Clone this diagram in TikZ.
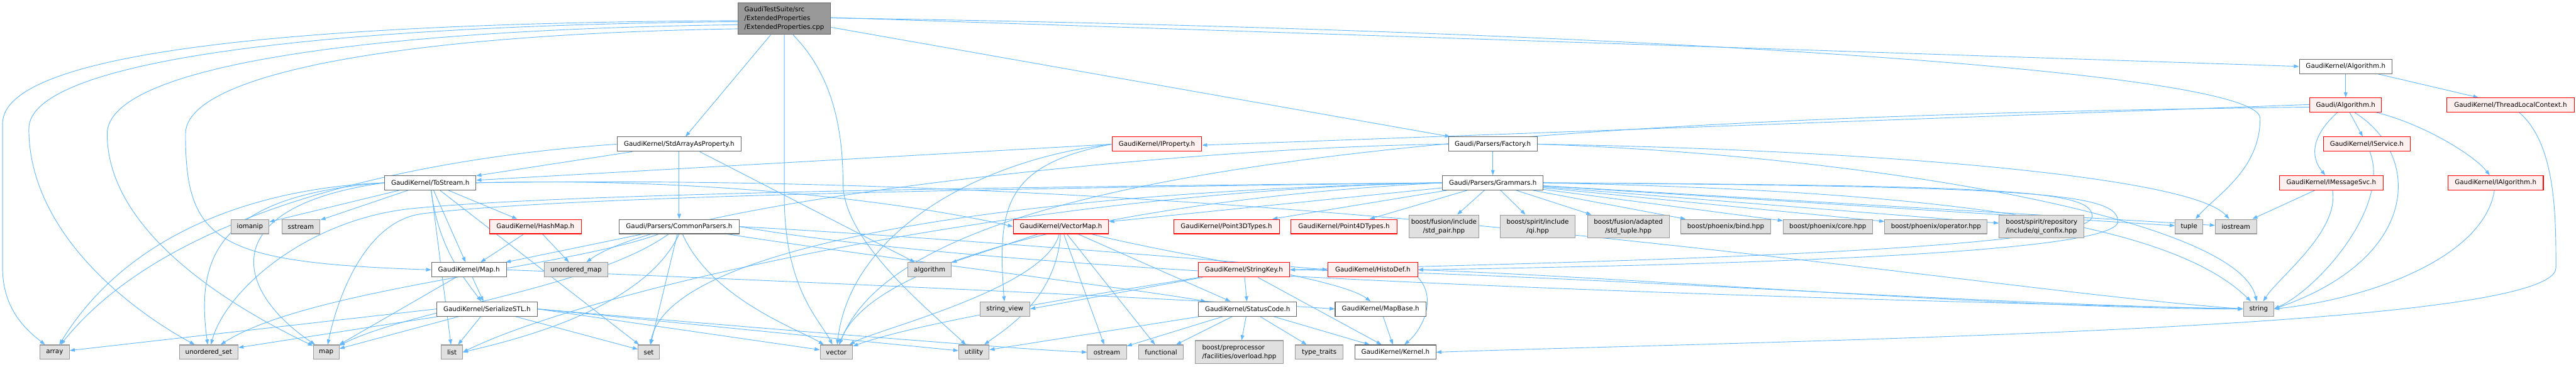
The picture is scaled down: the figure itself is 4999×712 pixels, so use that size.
\documentclass[tikz,border=0pt]{standalone}
\usepackage{fontspec}
\setmainfont{DejaVu Sans}
\usetikzlibrary{arrows.meta}
\definecolor{edgeblue}{HTML}{63B8FF}
\definecolor{maingray}{HTML}{999999}
\definecolor{maindraw}{HTML}{666666}
\definecolor{sysgray}{HTML}{E0E0E0}
\definecolor{sysborder}{HTML}{999999}
\definecolor{redfill}{HTML}{FFF0F0}
\definecolor{whiteborder}{HTML}{666666}
\newcommand{\nodefnt}{\fontsize{12.6}{17}\selectfont}
\pgfdeclarelayer{edgelayer}
\pgfsetlayers{edgelayer,main}
\tikzset{
  box/.style={draw, line width=1.3pt, inner sep=0pt, font=\nodefnt, align=center, text=black},
  wnode/.style={box, fill=white, draw=whiteborder},
  gnode/.style={box, fill=sysgray, draw=sysborder},
  rnode/.style={box, fill=redfill, draw=red},
  mnode/.style={box, fill=maingray, draw=maindraw, align=left},
  wh/.style 2 args={minimum width=#1pt, minimum height=#2pt},
  e/.style={draw=edgeblue, line width=1.1pt, -{Triangle[length=10pt,width=7pt]}},
}
\begin{document}
\begin{tikzpicture}[x=1pt,y=-1pt]
\begin{pgfonlayer}{edgelayer}
\fill[white] (0,0) rectangle (4999,712);
\end{pgfonlayer}
\useasboundingbox (0,0) rectangle (4999,712);
% nodes
\node[mnode, wh={180}{62}] (main) at (1522,36) {GaudiTestSuite/src\\/ExtendedProperties\\/ExtendedProperties.cpp};
\node[wnode, wh={241}{28}] (stdarr) at (1318,280) {GaudiKernel/StdArrayAsProperty.h};
\node[rnode, wh={174}{28}] (iprop) at (2245,280) {GaudiKernel/IProperty.h};
\node[wnode, wh={172}{28}] (factory) at (2897,280) {Gaudi/Parsers/Factory.h};
\node[wnode, wh={195}{28}] (grammars) at (2897,355) {Gaudi/Parsers/Grammars.h};
\node[wnode, wh={180}{28}] (gkalg) at (4552,129) {GaudiKernel/Algorithm.h};
\node[rnode, wh={139}{28}] (galg) at (4552,204) {Gaudi/Algorithm.h};
\node[rnode, wh={247}{28}] (tlc) at (4872,204) {GaudiKernel/ThreadLocalContext.h};
\node[rnode, wh={169}{28}] (isvc) at (4593,280) {GaudiKernel/IService.h};
\node[rnode, wh={201}{28}] (imsg) at (4524,355) {GaudiKernel/IMessageSvc.h};
\node[rnode, wh={185}{28}] (ialg) at (4843,355) {GaudiKernel/IAlgorithm.h};
\node[wnode, wh={177}{28}] (tostream) at (835,355) {GaudiKernel/ToStream.h};
\node[gnode, wh={74}{28}] (iomanip) at (485,440) {iomanip};
\node[gnode, wh={74}{28}] (sstream) at (584,440) {sstream};
\node[rnode, wh={178}{28}] (hashmap) at (1039,440) {GaudiKernel/HashMap.h};
\node[wnode, wh={233}{28}] (common) at (1318,440) {Gaudi/Parsers/CommonParsers.h};
\node[rnode, wh={185}{28}] (vmap) at (2059,440) {GaudiKernel/VectorMap.h};
\node[rnode, wh={205}{28}] (p3d) at (2380,440) {GaudiKernel/Point3DTypes.h};
\node[rnode, wh={206}{28}] (p4d) at (2608,440) {GaudiKernel/Point4DTypes.h};
\node[gnode, wh={135}{45}] (stdpair) at (2802,440) {boost/fusion/include\\/std\_pair.hpp};
\node[gnode, wh={146}{45}] (qi) at (2984,440) {boost/spirit/include\\/qi.hpp};
\node[gnode, wh={159}{45}] (stdtuple) at (3160,440) {boost/fusion/adapted\\/std\_tuple.hpp};
\node[gnode, wh={174}{28}] (bind) at (3349,440) {boost/phoenix/bind.hpp};
\node[gnode, wh={173}{28}] (core) at (3547,440) {boost/phoenix/core.hpp};
\node[gnode, wh={199}{28}] (oper) at (3757,440) {boost/phoenix/operator.hpp};
\node[gnode, wh={165}{45}, align=left] (confix) at (3962,440) {boost/spirit/repository\\/include/qi\_confix.hpp};
\node[gnode, wh={54}{28}] (tuple) at (4248,440) {tuple};
\node[gnode, wh={80}{28}] (iostream) at (4339,440) {iostream};
\node[wnode, wh={145}{28}] (maph) at (910,524) {GaudiKernel/Map.h};
\node[gnode, wh={123}{28}] (umap) at (1118,524) {unordered\_map};
\node[gnode, wh={84}{28}] (algorithm) at (1804,524) {algorithm};
\node[rnode, wh={177}{28}] (strkey) at (2414,524) {GaudiKernel/StringKey.h};
\node[rnode, wh={174}{28}] (histo) at (2664,524) {GaudiKernel/HistoDef.h};
\node[wnode, wh={195}{28}] (serial) at (945,600) {GaudiKernel/SerializeSTL.h};
\node[gnode, wh={97}{28}] (strview) at (1950,600) {string\_view};
\node[wnode, wh={191}{28}] (status) at (2421,600) {GaudiKernel/StatusCode.h};
\node[wnode, wh={176}{28}] (mapbase) at (2679,600) {GaudiKernel/MapBase.h};
\node[gnode, wh={59}{28}] (string) at (4383,600) {string};
\node[gnode, wh={57}{28}] (array) at (106,684) {array};
\node[gnode, wh={114}{28}] (uset) at (405,684) {unordered\_set};
\node[gnode, wh={50}{28}] (map) at (633,684) {map};
\node[gnode, wh={41}{28}] (list) at (877,684) {list};
\node[gnode, wh={41}{28}] (set) at (1259,684) {set};
\node[gnode, wh={63}{28}] (vector) at (1623,684) {vector};
\node[gnode, wh={59}{28}] (utility) at (1890,684) {utility};
\node[gnode, wh={76}{28}] (ostream) at (2148,684) {ostream};
\node[gnode, wh={87}{28}] (functional) at (2253,684) {functional};
\node[gnode, wh={170}{45}, align=left] (overload) at (2405,684) {boost/preprocessor\\/facilities/overload.hpp};
\node[gnode, wh={93}{28}] (typetraits) at (2560,684) {type\_traits};
\node[wnode, wh={157}{28}] (kernel) at (2708,684) {GaudiKernel/Kernel.h};
% edges
\begin{pgfonlayer}{edgelayer}
% main
\draw[e] ([yshift=-4pt]main.west) .. controls (500,45) and (5,110) .. (5,240) -- (5,520) .. controls (5,600) and (50,640) .. (array);
\draw[e] ([yshift=-6pt]main.west) .. controls (600,50) and (56,120) .. (56,250) .. controls (56,450) and (250,600) .. (uset);
\draw[e] ([yshift=-12pt]main.west) .. controls (700,58) and (208,130) .. (208,260) .. controls (208,470) and (500,620) .. (map);
\draw[e] ([yshift=-20pt]main.west) .. controls (800,66) and (360,140) .. (360,260) .. controls (360,470) and (420,510) .. (maph.west);
\draw[e] (main) -- (stdarr);
\draw[e] (main.south) -- (1522,380) .. controls (1522,560) and (1590,620) .. (vector);
\draw[e] (main.-62) .. controls (1620,150) and (1636,260) .. (1636,360) .. controls (1640,470) and (1800,600) .. (utility);
\draw[e] ([yshift=-17pt]main.east) -- (factory);
\draw[e] ([yshift=2pt]main.east) -- (gkalg.west);
\draw[e] ([yshift=1pt]main.east) .. controls (3000,55) and (4386,130) .. (4386,230) .. controls (4386,330) and (4300,380) .. (tuple);
% StdArrayAsProperty
\draw[e] (stdarr) -- (common);
\draw[e] ([xshift=30pt]stdarr.south west) -- (tostream);
\draw[e] (stdarr.west) .. controls (900,300) and (350,380) .. (array);
\draw[e] ([xshift=40pt]stdarr.south) -- (algorithm);
% CommonParsers
\draw[e] (common) -- (maph);
\draw[e] (common) .. controls (1100,520) and (600,560) .. (uset);
\draw[e] (common) .. controls (1150,560) and (800,600) .. (map);
\draw[e] (common.south) .. controls (1250,600) and (1000,660) .. (list.east);
\draw[e] (common) -- (set);
\draw[e] (common) .. controls (1380,580) and (1550,640) .. (vector);
\draw[e] (common) .. controls (1700,500) and (2200,560) .. (status);
\draw[e] (common.east) .. controls (1800,460) and (2300,500) .. (histo.west);
\draw[e] (common.east) .. controls (2000,540) and (3500,580) .. (string.west);
% ToStream
\draw[e] (tostream) -- (iomanip);
\draw[e] (tostream) -- (sstream);
\draw[e] (tostream) -- (hashmap);
\draw[e] (tostream) -- (maph);
\draw[e] (tostream) .. controls (850,480) and (900,540) .. (serial);
\draw[e] (tostream) -- (list);
\draw[e] (tostream) -- (set);
\draw[e] (tostream.west) .. controls (500,365) and (250,450) .. (array);
\draw[e] (tostream.west) .. controls (420,380) and (380,500) .. (uset);
\draw[e] (tostream.west) .. controls (420,400) and (450,560) .. (map);
\draw[e] (tostream.east) .. controls (1300,345) and (1700,380) .. (vmap.west);
\draw[e] (tostream.east) .. controls (2500,330) and (3800,560) .. (string.west);
% HashMap, Map, SerializeSTL
\draw[e] (hashmap) -- (maph);
\draw[e] (hashmap) -- (umap);
\draw[e] (maph.east) .. controls (1400,540) and (2300,580) .. (mapbase.west);
\draw[e] (maph) -- (serial);
\draw[e] (maph) -- (map);
\draw[e] (serial.west) -- (array);
\draw[e] (serial) -- (uset);
\draw[e] (serial) -- (map);
\draw[e] (serial) -- (list);
\draw[e] (serial) -- (set);
\draw[e] (serial.east) -- (vector);
\draw[e] (serial.east) -- (utility);
\draw[e] (serial.east) .. controls (1500,640) and (2000,680) .. (ostream.west);
% VectorMap
\draw[e] (vmap) -- (algorithm);
\draw[e] (vmap) .. controls (2030,560) and (1700,640) .. (vector);
\draw[e] (vmap) .. controls (2050,580) and (1950,640) .. (utility);
\draw[e] (vmap) -- (ostream);
\draw[e] (vmap) -- (functional);
\draw[e] (vmap) -- (status);
\draw[e] (vmap) .. controls (2300,500) and (2600,540) .. (mapbase);
% Grammars
\draw[e] (grammars) -- (vmap);
\draw[e] (grammars) -- (p3d);
\draw[e] (grammars) -- (p4d);
\draw[e] (grammars) -- (stdpair);
\draw[e] (grammars) -- (qi);
\draw[e] (grammars) -- (stdtuple);
\draw[e] (grammars) -- (bind);
\draw[e] (grammars) -- (core);
\draw[e] (grammars) -- (oper);
\draw[e] (grammars) -- (confix);
\draw[e] (grammars) -- (tuple);
\draw[e] (grammars) -- (iostream);
\draw[e] (grammars.east) .. controls (3700,370) and (4200,420) .. (string);
\draw[e] (grammars.east) .. controls (3900,360) and (4060,370) .. (4060,420) .. controls (4060,480) and (3300,505) .. (strkey.east);
\draw[e] (grammars.east) .. controls (3950,362) and (4110,375) .. (4110,430) .. controls (4110,495) and (3300,515) .. (histo.east);
\draw[e] (grammars.west) .. controls (2000,362) and (1100,375) .. (800,405) .. controls (600,425) and (440,560) .. (uset);
\draw[e] (grammars.west) .. controls (2000,365) and (1100,380) .. (820,415) .. controls (700,430) and (650,600) .. (map);
\draw[e] (grammars.west) .. controls (2000,370) and (1150,560) .. (list.east);
\draw[e] (grammars.west) .. controls (2000,372) and (1300,470) .. (set);
\draw[e] (grammars.west) .. controls (2300,380) and (1700,480) .. (vector);
% Factory
\draw[e] (factory) -- (grammars);
\draw[e] (factory.west) .. controls (2300,285) and (1300,390) .. (umap);
\draw[e] (factory.east) .. controls (3600,290) and (4250,340) .. (iostream);
\draw[e] (factory.east) .. controls (3600,300) and (4340,420) .. (string);
% Algorithms
\draw[e] (gkalg) -- (galg);
\draw[e] (gkalg) -- (tlc);
\draw[e] ([yshift=1pt]galg.west) -- ([yshift=-2pt]iprop.east);
\draw[e] ([yshift=-4pt]galg.west) .. controls (2600,230) and (1750,360) .. (vector);
\draw[e] (galg) -- (isvc);
\draw[e] (galg) .. controls (4490,260) and (4480,300) .. (imsg);
\draw[e] (galg) .. controls (4700,240) and (4800,300) .. (ialg);
\draw[e] (galg.-40) .. controls (4700,300) and (4700,500) .. (string.east);
\draw[e] (tlc) .. controls (4960,280) and (4960,420) .. (4960,520) .. controls (4960,640) and (3500,660) .. (kernel.east);
\draw[e] (isvc) .. controls (4640,400) and (4500,560) .. (string.east);
\draw[e] (imsg) -- (iostream);
\draw[e] (imsg) .. controls (4540,450) and (4420,540) .. (string);
\draw[e] (ialg) .. controls (4820,500) and (4600,580) .. (string.east);
% IProperty
\draw[e] (iprop.west) -- (tostream);
\draw[e] (iprop.west) .. controls (1900,310) and (1650,450) .. (vector);
\draw[e] (iprop.west) .. controls (1950,320) and (1935,400) .. (strview);
% StringKey, HistoDef
\draw[e] (strkey) -- (strview.east);
\draw[e] (strkey) -- (status);
\draw[e] (strkey) -- (kernel);
\draw[e] (strkey.east) .. controls (3000,530) and (3800,590) .. (string.west);
\draw[e] (strkey) .. controls (2200,560) and (1800,620) .. (vector);
\draw[e] (histo.south east) .. controls (2790,580) and (2760,640) .. (kernel);
\draw[e] (histo.east) .. controls (3200,540) and (3900,600) .. (string.west);
% StatusCode, MapBase
\draw[e] (status) -- (ostream);
\draw[e] (status) -- (functional);
\draw[e] (status) -- (overload);
\draw[e] (status) -- (typetraits);
\draw[e] (status) -- (kernel);
\draw[e] (status) -- (utility);
\draw[e] (mapbase) -- (kernel);
\end{pgfonlayer}
\end{tikzpicture}
\end{document}
